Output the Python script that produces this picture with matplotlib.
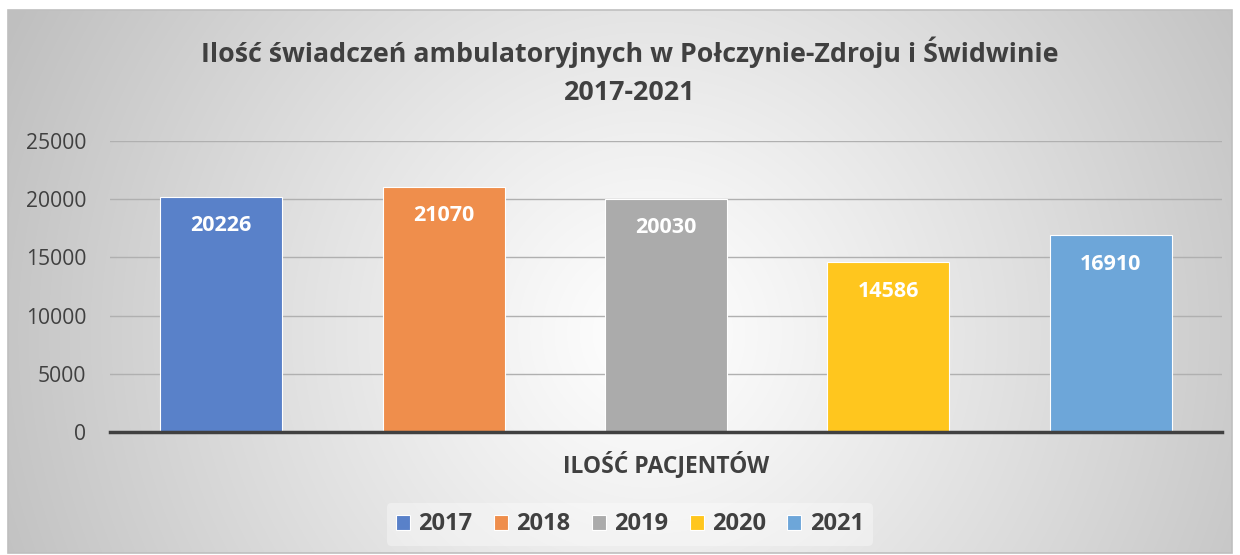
import numpy as np
import matplotlib
matplotlib.use("Agg")
import matplotlib.pyplot as plt
from matplotlib.patches import Rectangle

# data
years = ["2017", "2018", "2019", "2020", "2021"]
values = [20226, 21070, 20030, 14586, 16910]
colors = ["#5981c9", "#ef8e4c", "#ababab", "#ffc61e", "#6da6d9"]
category = "ILOŚĆ PACJENTÓW"
title = "Ilość świadczeń ambulatoryjnych w Połczynie-Zdroju i Świdwinie\n2017-2021"
yticks = [0, 5000, 10000, 15000, 20000, 25000]

plt.rcParams["font.family"] = ["Open Sans", "DejaVu Sans"]
TXT = "#404040"

fig = plt.figure(figsize=(12.4, 5.55), dpi=100)

# background: radial gradient inside a framed box
bg = fig.add_axes([0, 0, 1, 1], zorder=-10)
bg.axis("off")
W, H = 1240, 555
yy, xx = np.mgrid[0:H, 0:W]
d = np.sqrt((xx - 650) ** 2 + (yy - 330) ** 2) / 720.0
g = 1.0 - 0.25 * np.clip(d, 0, 1) ** 1.1
img = np.dstack([g, g, g])
bg.imshow(img, extent=(8, 1232, 553, 10), aspect="auto", interpolation="bilinear")
bg.add_patch(Rectangle((8, 10), 1224, 543, fill=False, edgecolor="#bfbfbf", lw=1.2))
bg.set_xlim(0, 1240)
bg.set_ylim(555, 0)

ax = fig.add_axes([0.0887, 0.2216, 0.8968, 0.5243])
ax.patch.set_alpha(0)
x = np.arange(len(years))
ax.bar(x, values, width=0.548, color=colors, edgecolor="#ffffff", linewidth=0.8, zorder=3)
for xi, v in zip(x, values):
    ax.annotate(str(v), (xi, v), xytext=(0, -29), textcoords="offset pixels",
                ha="center", va="center", color="white", fontsize=15.5, fontweight="bold",
                zorder=5)

ax.set_xlim(-0.5, 4.5)
ax.set_ylim(0, 25000)
ax.set_yticks(yticks)
ax.set_yticklabels([str(t) for t in yticks], fontsize=15.2, color=TXT)
ax.tick_params(axis="y", length=0, pad=17)
ax.set_xticks([])
ax.grid(axis="y", color="#b0b0b0", lw=1, zorder=0)
for s in ["top", "right", "left"]:
    ax.spines[s].set_visible(False)
ax.spines["bottom"].set_color("#404040")
ax.spines["bottom"].set_linewidth(2.5)
ax.spines["bottom"].set_zorder(6)

ax.set_xlabel(category, fontsize=16.5, fontweight="bold", color=TXT, labelpad=14)

fig.text(0.508, 0.871, title, ha="center", va="center", fontsize=19.3,
         fontweight="bold", color=TXT, linespacing=1.6)

handles = [Rectangle((0, 0), 1, 1, facecolor=c, edgecolor="#ffffff", lw=0.8) for c in colors]
leg = fig.legend(handles, years, loc="center", bbox_to_anchor=(0.508, 0.055), ncol=5,
                 frameon=True, prop={"size": 17, "weight": "bold"},
                 handlelength=0.6, handleheight=0.6, handletextpad=0.35,
                 columnspacing=0.9, borderpad=0.4)
leg.get_frame().set_facecolor("white")
leg.get_frame().set_alpha(0.35)
leg.get_frame().set_edgecolor("none")
for t in leg.get_texts():
    t.set_color(TXT)

fig.savefig("out.png", dpi=100)
